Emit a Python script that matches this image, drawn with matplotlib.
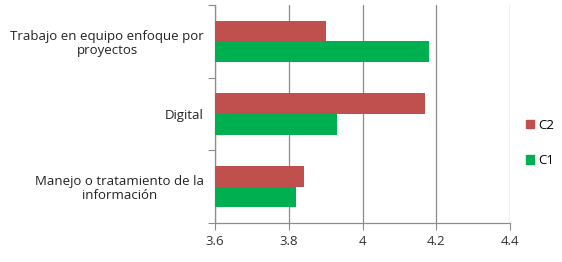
import matplotlib
matplotlib.use("Agg")
import matplotlib.pyplot as plt
from matplotlib.patches import Patch
import numpy as np

categories = ["Manejo o tratamiento de la\ninformación", "Digital", "Trabajo en equipo enfoque por\nproyectos"]
c1 = [3.82, 3.93, 4.18]
c2 = [3.84, 4.17, 3.90]
xticks = [3.6, 3.8, 4.0, 4.2, 4.4]
xlabels = ["3.6", "3.8", "4", "4.2", "4.4"]

red = "#C0504D"
green = "#00B050"
grey = "#8C8C8C"

plt.rcParams["font.family"] = ["Open Sans", "DejaVu Sans"]

fig = plt.figure(figsize=(5.62, 2.62), dpi=100)
ax = fig.add_axes([0.3826, 0.149, 0.525, 0.832])

y = np.arange(len(categories))
h = 0.285
ax.barh(y - h / 2, [v - 3.6 for v in c1], left=3.6, height=h, color=green, zorder=3)
ax.barh(y + h / 2, [v - 3.6 for v in c2], left=3.6, height=h, color=red, zorder=3)

ax.set_xlim(3.6, 4.4)
ax.set_ylim(-0.5, 2.5)
ax.set_xticks(xticks)
ax.set_xticklabels(xlabels)
ax.set_yticks([-0.5, 0.5, 1.5, 2.5])
ax.set_yticklabels([])
ax.set_yticks(y, minor=True)
ax.set_yticklabels(categories, minor=True, ha="right", multialignment="center", linespacing=1.1)
ax.tick_params(axis="y", which="minor", length=0, pad=8, labelsize=9.5, labelcolor="#222222")
ax.tick_params(axis="y", which="major", length=5, color=grey, direction="out")
ax.tick_params(axis="x", length=5, color=grey, labelsize=9.5, labelcolor="#333333", pad=4)

ax.grid(axis="x", color=grey, linewidth=0.9, zorder=0)
for s in ["top", "right"]:
    ax.spines[s].set_visible(False)
for s in ["left", "bottom"]:
    ax.spines[s].set_color(grey)
    ax.spines[s].set_linewidth(0.9)

handles = [Patch(color=red, label="C2"), Patch(color=green, label="C1")]
fig.legend(handles=handles, loc="center left", bbox_to_anchor=(0.915, 0.455),
           frameon=False, fontsize=9.5, handlelength=0.6, handleheight=0.6,
           handletextpad=0.3, labelspacing=1.7)

fig.savefig("out.png", dpi=100)
